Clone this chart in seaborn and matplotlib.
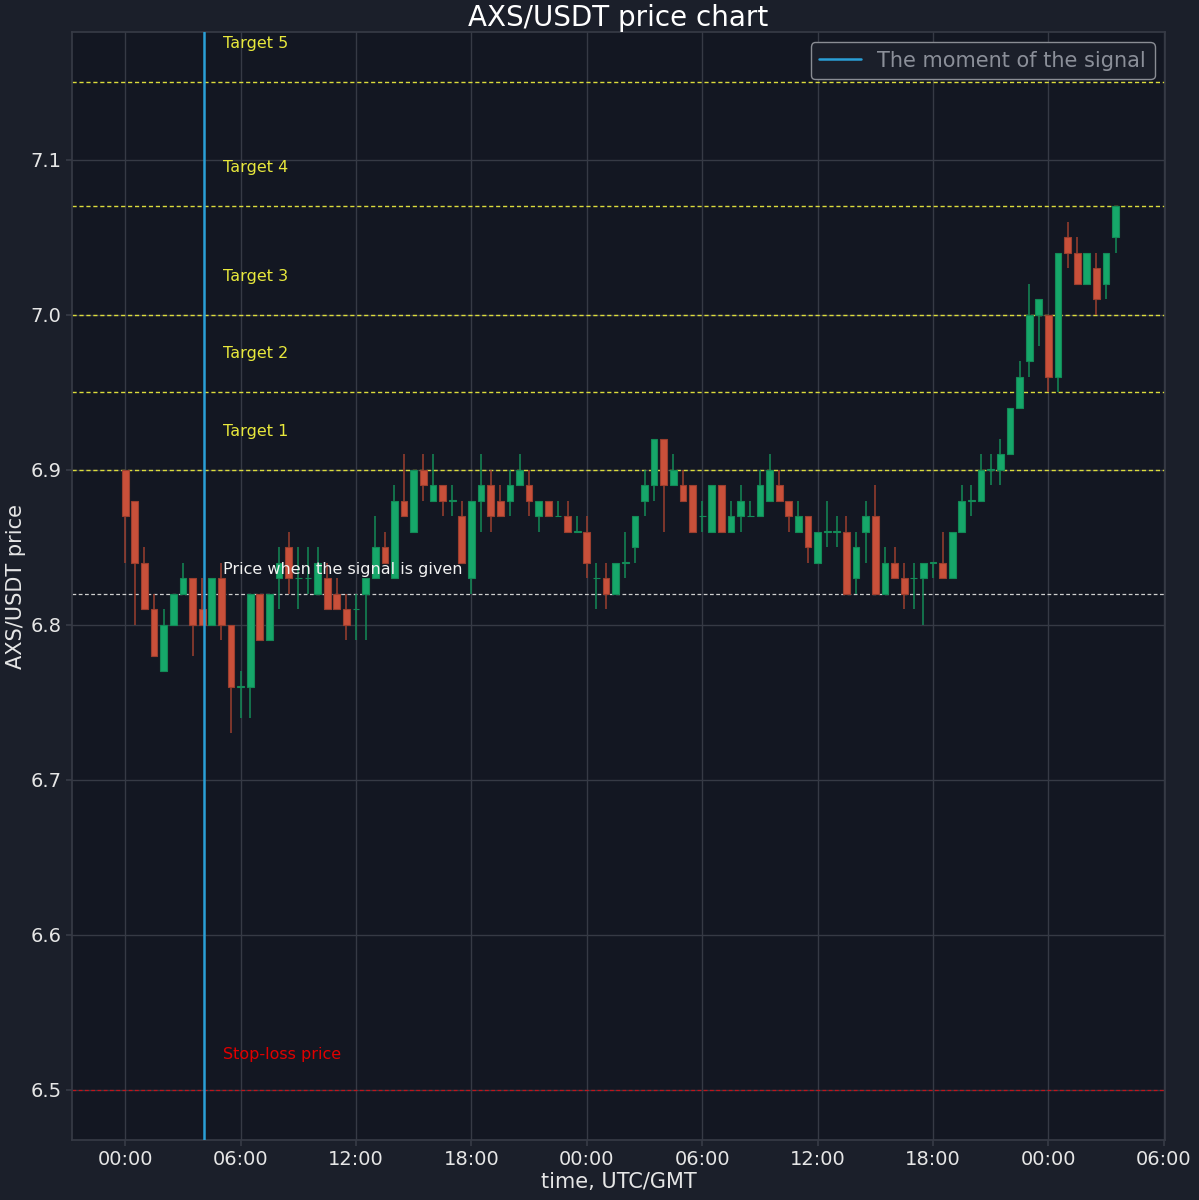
import matplotlib
matplotlib.use("Agg")
import matplotlib.pyplot as plt
import matplotlib.dates as mdates
import seaborn as sns
import pandas as pd
import numpy as np

# ---- data ----
start_time = "2023-01-01 00:00"
n_candles = 104
open_ = [6.90, 6.88, 6.84, 6.81, 6.77, 6.80, 6.82, 6.83, 6.81, 6.80,
         6.83, 6.80, 6.76, 6.76, 6.82, 6.79, 6.83, 6.85, 6.83, 6.83,
         6.82, 6.83, 6.82, 6.81, 6.81, 6.82, 6.83, 6.85, 6.83, 6.88,
         6.86, 6.90, 6.88, 6.89, 6.88, 6.87, 6.83, 6.88, 6.89, 6.88,
         6.88, 6.89, 6.89, 6.87, 6.88, 6.87, 6.87, 6.86, 6.86, 6.83,
         6.83, 6.82, 6.84, 6.85, 6.88, 6.89, 6.92, 6.89, 6.89, 6.89,
         6.87, 6.86, 6.89, 6.86, 6.87, 6.87, 6.87, 6.88, 6.89, 6.88,
         6.86, 6.87, 6.84, 6.86, 6.86, 6.86, 6.83, 6.86, 6.87, 6.82,
         6.84, 6.83, 6.83, 6.83, 6.84, 6.84, 6.83, 6.86, 6.88, 6.88,
         6.90, 6.90, 6.91, 6.94, 6.97, 7.00, 7.00, 6.96, 7.05, 7.04,
         7.02, 7.03, 7.02, 7.05]
high = [6.90, 6.88, 6.85, 6.82, 6.81, 6.82, 6.84, 6.83, 6.83, 6.83,
        6.84, 6.80, 6.77, 6.82, 6.82, 6.82, 6.85, 6.86, 6.85, 6.85,
        6.85, 6.84, 6.83, 6.82, 6.82, 6.83, 6.87, 6.86, 6.89, 6.91,
        6.90, 6.91, 6.91, 6.89, 6.89, 6.88, 6.88, 6.91, 6.90, 6.89,
        6.90, 6.91, 6.90, 6.88, 6.88, 6.88, 6.88, 6.87, 6.87, 6.84,
        6.84, 6.84, 6.86, 6.87, 6.90, 6.92, 6.92, 6.91, 6.90, 6.89,
        6.88, 6.89, 6.89, 6.88, 6.89, 6.88, 6.90, 6.91, 6.90, 6.88,
        6.88, 6.87, 6.86, 6.88, 6.87, 6.87, 6.86, 6.88, 6.89, 6.85,
        6.85, 6.84, 6.84, 6.84, 6.84, 6.86, 6.86, 6.89, 6.89, 6.91,
        6.91, 6.92, 6.94, 6.97, 7.02, 7.01, 7.00, 7.04, 7.06, 7.05,
        7.04, 7.04, 7.04, 7.07]
low = [6.84, 6.80, 6.81, 6.78, 6.77, 6.80, 6.82, 6.78, 6.80, 6.80,
       6.79, 6.73, 6.74, 6.74, 6.79, 6.79, 6.81, 6.82, 6.81, 6.82,
       6.82, 6.81, 6.81, 6.79, 6.79, 6.79, 6.83, 6.84, 6.83, 6.87,
       6.86, 6.88, 6.88, 6.87, 6.87, 6.84, 6.82, 6.86, 6.86, 6.87,
       6.87, 6.89, 6.87, 6.86, 6.87, 6.87, 6.86, 6.86, 6.83, 6.81,
       6.81, 6.82, 6.83, 6.84, 6.87, 6.88, 6.86, 6.89, 6.88, 6.86,
       6.86, 6.86, 6.86, 6.86, 6.86, 6.87, 6.87, 6.88, 6.88, 6.86,
       6.86, 6.84, 6.84, 6.85, 6.85, 6.82, 6.82, 6.84, 6.82, 6.82,
       6.83, 6.81, 6.81, 6.80, 6.83, 6.83, 6.83, 6.86, 6.87, 6.88,
       6.89, 6.89, 6.91, 6.94, 6.96, 6.98, 6.95, 6.95, 7.03, 7.02,
       7.02, 7.00, 7.01, 7.04]
close = [6.87, 6.84, 6.81, 6.78, 6.80, 6.82, 6.83, 6.80, 6.80, 6.83,
         6.80, 6.76, 6.76, 6.82, 6.79, 6.82, 6.84, 6.83, 6.83, 6.83,
         6.84, 6.81, 6.81, 6.80, 6.81, 6.83, 6.85, 6.84, 6.88, 6.87,
         6.90, 6.89, 6.89, 6.88, 6.88, 6.84, 6.88, 6.89, 6.87, 6.87,
         6.89, 6.90, 6.88, 6.88, 6.87, 6.87, 6.86, 6.86, 6.84, 6.83,
         6.82, 6.84, 6.84, 6.87, 6.89, 6.92, 6.89, 6.90, 6.88, 6.86,
         6.87, 6.89, 6.86, 6.87, 6.88, 6.87, 6.89, 6.90, 6.88, 6.87,
         6.87, 6.85, 6.86, 6.86, 6.86, 6.82, 6.85, 6.87, 6.82, 6.84,
         6.83, 6.82, 6.83, 6.84, 6.84, 6.83, 6.86, 6.88, 6.88, 6.90,
         6.90, 6.91, 6.94, 6.96, 7.00, 7.01, 6.96, 7.04, 7.04, 7.02,
         7.04, 7.01, 7.04, 7.07]

signal_time = "2023-01-01 04:05"
signal_price = 6.82
stop_loss = 6.50
target_names = ["Target 1", "Target 2", "Target 3", "Target 4", "Target 5"]
target_prices = [6.90, 6.95, 7.00, 7.07, 7.15]

title = "AXS/USDT price chart"
xlabel = "time, UTC/GMT"
ylabel = "AXS/USDT price"
legend_label = "The moment of the signal"

# ---- style ----
FIG_BG = "#1b1f2a"
AX_BG = "#131722"
GRID = "#363a45"
TXT = "#e6e6e6"
UP = "#16a76a"
DOWN = "#c9503a"
UP_WICK = "#138a57"
DOWN_WICK = "#9b3f2f"

sns.set_theme(style="darkgrid", rc={
    "figure.facecolor": FIG_BG,
    "axes.facecolor": AX_BG,
    "axes.edgecolor": GRID,
    "grid.color": GRID,
    "grid.linewidth": 1.0,
    "axes.labelcolor": TXT,
    "xtick.color": TXT,
    "ytick.color": TXT,
    "text.color": TXT,
    "xtick.bottom": True,
    "ytick.left": True,
    "xtick.major.size": 4,
    "ytick.major.size": 4,
})
plt.rcParams["font.family"] = ["DejaVu Sans"]

df = pd.DataFrame({
    "time": pd.date_range(start_time, periods=n_candles, freq="30min"),
    "open": open_, "high": high, "low": low, "close": close,
})
df["up"] = df["close"] >= df["open"]

fig, ax = plt.subplots(figsize=(11.99, 12.0), dpi=100)
fig.subplots_adjust(left=0.060, right=0.9716, top=0.9733, bottom=0.05)

width = pd.Timedelta(minutes=21)
for is_up, col, wcol in [(True, UP, UP_WICK), (False, DOWN, DOWN_WICK)]:
    sub = df[df["up"] == is_up]
    ax.vlines(sub["time"], sub["low"], sub["high"], color=wcol, linewidth=1.1, zorder=2)
    bottoms = np.minimum(sub["open"], sub["close"])
    heights = np.abs(sub["close"] - sub["open"])
    heights = np.where(heights < 1e-9, 0.0004, heights)
    ax.bar(sub["time"], heights, bottom=bottoms, width=width, color=col,
           edgecolor=wcol, linewidth=0.8, zorder=3)

sig_t = pd.Timestamp(signal_time)
ax.axvline(sig_t, color="#2a9fd6", linewidth=1.8, label=legend_label, zorder=4)

text_x = sig_t + pd.Timedelta(hours=1)
for name, p in zip(target_names, target_prices):
    ax.axhline(p, color="#dcdc3c", linestyle=(0, (3, 2)), linewidth=1.0, zorder=1.5)
    ax.text(text_x, p + 0.02, name, color="#e8e83c", fontsize=11.5, va="bottom", ha="left")

ax.axhline(signal_price, color="#cfcfcf", linestyle=(0, (3, 2)), linewidth=0.9, zorder=1.5)
ax.text(text_x, signal_price + 0.011, "Price when the signal is given", color="#f2f2f2",
        fontsize=11.5, va="bottom", ha="left")

ax.axhline(stop_loss, color="#c0141b", linestyle=(0, (3, 2)), linewidth=0.9, zorder=1.5)
ax.text(text_x, stop_loss + 0.018, "Stop-loss price", color="#e00000",
        fontsize=11.5, va="bottom", ha="left")

t0 = pd.Timestamp(start_time)
ax.set_xlim(t0 - pd.Timedelta(hours=2.771), t0 + pd.Timedelta(hours=54.06))
ax.set_ylim(6.4675, 7.1825)
ax.set_yticks([6.5, 6.6, 6.7, 6.8, 6.9, 7.0, 7.1])
ax.xaxis.set_major_locator(mdates.HourLocator(byhour=[0, 6, 12, 18]))
ax.xaxis.set_major_formatter(mdates.DateFormatter("%H:%M"))
ax.tick_params(axis="both", labelsize=14, colors=TXT, length=4)
ax.tick_params(axis="both", color=GRID)
for s in ax.spines.values():
    s.set_visible(True)
    s.set_color(GRID)

ax.set_title(title, fontsize=20, color="#ffffff", pad=3)
ax.set_xlabel(xlabel, fontsize=15, labelpad=2)
ax.set_ylabel(ylabel, fontsize=15, labelpad=3)

leg = ax.legend(loc="upper right", fontsize=15, facecolor=FIG_BG, edgecolor="#8a8d94",
                framealpha=1.0, labelcolor="#8b8f99")
leg.get_frame().set_linewidth(1.0)

fig.savefig("out.png", dpi=100, facecolor=FIG_BG)
